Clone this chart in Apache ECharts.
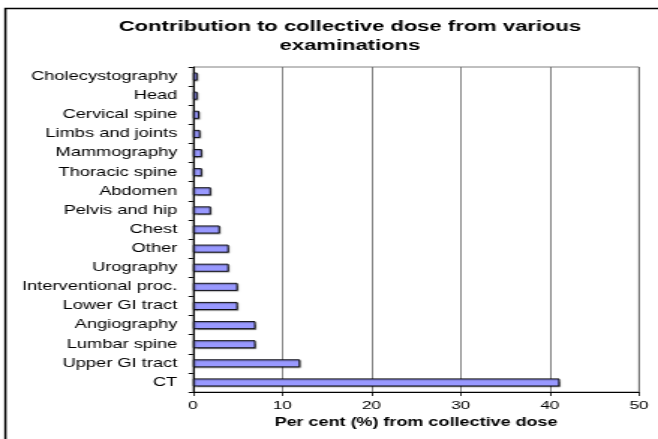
<!DOCTYPE html>
<html>
<head>
<meta charset="utf-8">
<script src="https://cdn.jsdelivr.net/npm/echarts@6/dist/echarts.min.js"></script>
<style>
  html, body { margin: 0; padding: 0; background: #fff; overflow: hidden; }
  /* the chart is drawn narrow and widened, giving the broad lettering of the original sheet */
  #chart { width: 439px; height: 439px; transform: scaleX(1.4989); transform-origin: 0 0; }
</style>
</head>
<body>
<div id="chart"></div>
<script>
// Examination types, top to bottom as listed on the axis
const categories = [
  'Cholecystography', 'Head', 'Cervical spine', 'Limbs and joints',
  'Mammography', 'Thoracic spine', 'Abdomen', 'Pelvis and hip', 'Chest',
  'Other', 'Urography', 'Interventional proc.', 'Lower GI tract',
  'Angiography', 'Lumbar spine', 'Upper GI tract', 'CT'
];
// Share of collective dose, per cent
const shares = [0.5, 0.5, 0.7, 0.8, 1.0, 1.0, 2.0, 2.0, 3.0, 4.0, 4.0, 5.0, 5.0, 7.0, 7.0, 12.0, 41.1];
const xTicks = [0, 10, 20, 30, 40, 50];

const font = 'Arial, "Liberation Sans", sans-serif';
const chart = echarts.init(document.getElementById('chart'), null, { renderer: 'canvas' });

chart.setOption({
  animation: false,
  backgroundColor: '#fff',
  graphic: [{
    type: 'rect',
    shape: { x: 3.6, y: 8.5, width: 600, height: 500 },
    style: { fill: 'none', stroke: '#000', lineWidth: 1.5 },
    silent: true, z: -1
  }],
  title: {
    text: 'Contribution to collective dose from various\nexaminations',
    left: 228.5, top: 12, textAlign: 'center',
    textStyle: { fontFamily: font, fontSize: 14.7, fontWeight: 'bold', color: '#000', lineHeight: 19 }
  },
  grid: { left: 128.8, right: 12.7, top: 67, bottom: 47, show: true, borderColor: '#808080', borderWidth: 1, containLabel: false },
  xAxis: {
    type: 'value', min: xTicks[0], max: xTicks[xTicks.length - 1], interval: 10,
    name: 'Per cent (%) from collective dose', nameLocation: 'middle', nameGap: 24,
    nameTextStyle: { fontFamily: font, fontSize: 12, fontWeight: 'bold', color: '#000' },
    axisLine: { show: true, lineStyle: { color: '#000', width: 1 } },
    axisTick: { show: true, length: 4, lineStyle: { color: '#000', width: 0.8 } },
    axisLabel: { fontFamily: font, fontSize: 11.5, color: '#000', margin: 8 },
    splitLine: { show: true, lineStyle: { color: '#666', width: 0.8 } }
  },
  yAxis: {
    type: 'category', data: categories, inverse: true,
    axisLine: { show: true, lineStyle: { color: '#000', width: 0.9 } },
    axisTick: { show: true, length: 3, inside: false, alignWithLabel: false, lineStyle: { color: '#000', width: 1 } },
    axisLabel: { fontFamily: font, fontSize: 12.2, color: '#000', margin: 10.5, interval: 0 },
    splitLine: { show: false }
  },
  series: [{
    type: 'bar', data: shares, barWidth: 8,
    itemStyle: {
      color: '#9999ff', borderColor: '#000', borderWidth: 0.9,
      shadowColor: 'rgba(0,0,0,0.35)', shadowOffsetX: 0.7, shadowOffsetY: 1, shadowBlur: 1
    }
  }]
});
</script>
</body>
</html>
